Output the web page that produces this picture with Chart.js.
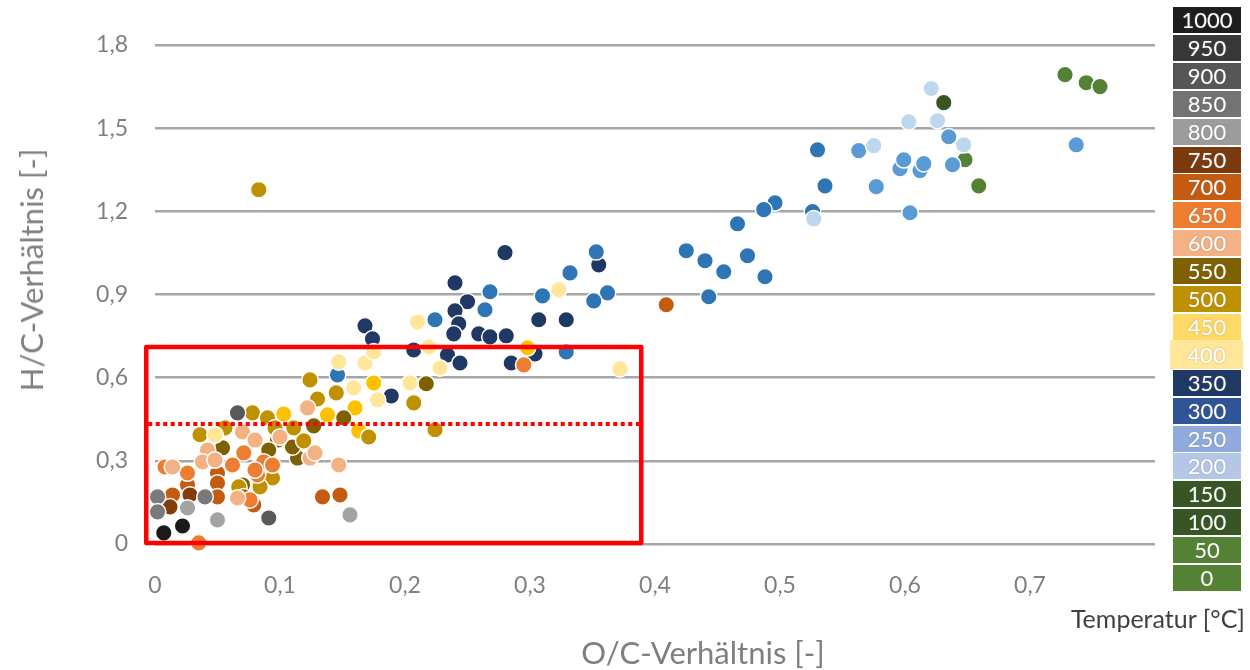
<!DOCTYPE html>
<html>
<head>
<meta charset="utf-8">
<script src="https://cdn.jsdelivr.net/npm/chart.js@4.4.1/dist/chart.umd.min.js"></script>
<style>
  body { margin: 0; background: #fff; }
  #wrap { position: relative; width: 1250px; height: 670px; }
  .lg { position: absolute; left: 1173px; width: 68px; height: 26px; color: #fff;
        font: 22px Lato, "Open Sans", sans-serif; line-height: 26px; text-align: center;
        text-shadow: 0 0 2px rgba(120,120,120,0.5); }
  #unit { position: absolute; right: 5px; top: 603px; font: 25px Lato, sans-serif; color: #404040; }
  .ttl { position: absolute; font: 31px Lato, sans-serif; color: #7f7f7f; white-space: nowrap; }
  #xTitle { left: 703px; top: 652px; transform: translate(-50%, -50%); }
  #yTitle { left: 31px; top: 270px; transform: translate(-50%, -50%) rotate(-90deg); }
</style>
</head>
<body>
<div id="wrap">
  <canvas id="vkChart" width="1250" height="670"></canvas>
  <div id="legend"></div>
  <div id="unit">Temperatur [°C]</div>
  <div class="ttl" id="xTitle">O/C-Verhältnis [-]</div>
  <div class="ttl" id="yTitle">H/C-Verhältnis [-]</div>
</div>
<script>
// Temperaturstufen (Legende oben -> unten)
const legendTemps = [1000, 950, 900, 850, 800, 750, 700, 650, 600, 550, 500, 450, 400, 350, 300, 250, 200, 150, 100, 50, 0];
const legendColors = ['#1e1e1e', '#383838', '#565656', '#737373', '#9c9c9c', '#7b3a0e', '#c55a11', '#ed7d31', '#f4b183',
  '#7f6000', '#bf9000', '#ffd966', '#ffe699', '#203864', '#2f5597', '#8faadc', '#b4c7e7', '#375623', '#375623', '#548235', '#548235'];

const xTickLabels = ['0', '0,1', '0,2', '0,3', '0,4', '0,5', '0,6', '0,7', ''];
const yTickLabels = ['0', '0,3', '0,6', '0,9', '1,2', '1,5', '1,8'];

// Messpunkte je Temperatur: O/C (x) und H/C (y)
const oc1000 = [0.007, 0.022];
const hc1000 = [0.040, 0.065];
const oc900 = [0.066, 0.091];
const hc900 = [0.473, 0.094];
const oc850 = [0.002, 0.040, 0.002];
const hc850 = [0.170, 0.170, 0.116];
const oc800 = [0.026, 0.050, 0.156];
const hc800 = [0.130, 0.087, 0.105];
const oc750 = [0.028, 0.012];
const hc750 = [0.177, 0.134];
const oc700 = [0.026, 0.050, 0.050, 0.014, 0.079, 0.134, 0.148, 0.071, 0.050, 0.409];
const hc700 = [0.213, 0.256, 0.220, 0.177, 0.141, 0.170, 0.177, 0.170, 0.170, 0.863];
const oc650 = [0.008, 0.026, 0.071, 0.062, 0.082, 0.087, 0.082, 0.094, 0.080, 0.076, 0.035, 0.295];
const hc650 = [0.278, 0.256, 0.329, 0.285, 0.274, 0.296, 0.249, 0.285, 0.267, 0.159, 0.004, 0.646];
const oc600 = [0.122, 0.042, 0.070, 0.080, 0.124, 0.147, 0.128, 0.014, 0.038, 0.100, 0.066, 0.048];
const hc600 = [0.491, 0.339, 0.404, 0.375, 0.310, 0.285, 0.329, 0.278, 0.296, 0.386, 0.166, 0.303];
const oc550 = [0.151, 0.098, 0.054, 0.114, 0.091, 0.070, 0.127, 0.110, 0.217];
const hc550 = [0.455, 0.375, 0.347, 0.310, 0.339, 0.213, 0.426, 0.350, 0.578];
const oc500 = [0.124, 0.130, 0.145, 0.036, 0.119, 0.078, 0.090, 0.056, 0.096, 0.111, 0.171, 0.067, 0.094, 0.084, 0.207, 0.224, 0.083];
const hc500 = [0.592, 0.523, 0.545, 0.394, 0.372, 0.473, 0.455, 0.419, 0.419, 0.419, 0.386, 0.206, 0.238, 0.206, 0.509, 0.412, 1.278];
const oc450 = [0.103, 0.175, 0.138, 0.160, 0.163, 0.298];
const hc450 = [0.469, 0.581, 0.466, 0.491, 0.408, 0.708];
const oc400 = [0.147, 0.168, 0.175, 0.159, 0.178, 0.048, 0.210, 0.219, 0.228, 0.323, 0.372, 0.204];
const hc400 = [0.657, 0.653, 0.693, 0.563, 0.520, 0.394, 0.801, 0.711, 0.635, 0.917, 0.632, 0.581];
const oc350 = [0.280, 0.240, 0.250, 0.240, 0.243, 0.239, 0.168, 0.174, 0.207, 0.234, 0.244, 0.259, 0.268, 0.281, 0.307, 0.329, 0.285, 0.304, 0.355, 0.189];
const hc350 = [1.051, 0.942, 0.874, 0.841, 0.794, 0.758, 0.787, 0.740, 0.700, 0.682, 0.653, 0.758, 0.747, 0.751, 0.809, 0.809, 0.653, 0.686, 1.007, 0.534];
const oc300 = [0.268, 0.264, 0.224, 0.332, 0.310, 0.353, 0.362, 0.351, 0.329, 0.146, 0.530, 0.536, 0.526, 0.496, 0.487, 0.466, 0.425, 0.440, 0.455, 0.474, 0.488, 0.443];
const hc300 = [0.910, 0.845, 0.809, 0.978, 0.895, 1.054, 0.906, 0.877, 0.693, 0.610, 1.422, 1.292, 1.199, 1.231, 1.206, 1.155, 1.058, 1.022, 0.982, 1.040, 0.964, 0.892];
const oc250 = [0.563, 0.577, 0.596, 0.599, 0.612, 0.615, 0.635, 0.638, 0.604, 0.737];
const hc250 = [1.419, 1.289, 1.354, 1.386, 1.347, 1.372, 1.469, 1.368, 1.195, 1.440];
const oc200 = [0.621, 0.603, 0.626, 0.647, 0.575, 0.527];
const hc200 = [1.643, 1.523, 1.527, 1.440, 1.437, 1.173];
const oc150 = [0.631];
const hc150 = [1.592];
const oc50 = [0.728, 0.745, 0.756, 0.648, 0.659];
const hc50 = [1.693, 1.664, 1.650, 1.386, 1.292];

// markierter Bereich
const boxX = [-0.007, 0.389];
const boxY = [0.004, 0.711];
const limitY = 0.433;

const series = [
  { t: 1000, x: oc1000, y: hc1000, c: '#1a1a1a' },
  { t: 900, x: oc900, y: hc900, c: '#595959' },
  { t: 850, x: oc850, y: hc850, c: '#7a7a7a' },
  { t: 800, x: oc800, y: hc800, c: '#a3a3a3' },
  { t: 750, x: oc750, y: hc750, c: '#843c0c' },
  { t: 600, x: oc600, y: hc600, c: '#f4b183' },
  { t: 650, x: oc650, y: hc650, c: '#ed7d31' },
  { t: 700, x: oc700, y: hc700, c: '#c55a11' },
  { t: 400, x: oc400, y: hc400, c: '#ffe699' },
  { t: 500, x: oc500, y: hc500, c: '#bf9000' },
  { t: 550, x: oc550, y: hc550, c: '#7f6000' },
  { t: 450, x: oc450, y: hc450, c: '#ffc000' },
  { t: 200, x: oc200, y: hc200, c: '#bdd7ee' },
  { t: 250, x: oc250, y: hc250, c: '#5b9bd5' },
  { t: 300, x: oc300, y: hc300, c: '#2e75b6' },
  { t: 350, x: oc350, y: hc350, c: '#203864' },
  { t: 150, x: oc150, y: hc150, c: '#375623' },
  { t: 50, x: oc50, y: hc50, c: '#548235' }
];

// Legende als Farbkästchen
const legendEl = document.getElementById('legend');
legendTemps.forEach(function (t, i) {
  const d = document.createElement('div');
  d.className = 'lg';
  d.textContent = t;
  d.style.top = (7 + i * 27.9) + 'px';
  d.style.background = legendColors[i];
  if (t === 400) {
    d.style.left = '1170px';
    d.style.width = '73px';
    d.style.height = '29px';
    d.style.lineHeight = '29px';
    d.style.top = (7 + i * 27.9 - 1.5) + 'px';
  }
  legendEl.appendChild(d);
});

const boxPlugin = {
  id: 'markBox',
  afterDatasetsDraw(chart) {
    const ctx = chart.ctx;
    const xs = chart.scales.x, ys = chart.scales.y;
    const l = xs.getPixelForValue(boxX[0]), r = xs.getPixelForValue(boxX[1]);
    const t = ys.getPixelForValue(boxY[1]), b = ys.getPixelForValue(boxY[0]);
    ctx.save();
    ctx.strokeStyle = '#ff0000';
    ctx.lineWidth = 4.5;
    ctx.lineJoin = 'round';
    ctx.strokeRect(l, t, r - l, b - t);
    const ly = ys.getPixelForValue(limitY);
    ctx.lineWidth = 4;
    ctx.setLineDash([4, 3.5]);
    ctx.beginPath();
    ctx.moveTo(l + 2, ly);
    ctx.lineTo(r - 2, ly);
    ctx.stroke();
    ctx.restore();
  }
};

const tickColor = '#7f7f7f';
const font = 'Lato, "Open Sans", sans-serif';

new Chart(document.getElementById('vkChart'), {
  type: 'scatter',
  data: {
    datasets: series.map(function (s) {
      return {
        label: s.t + ' °C',
        data: s.x.map(function (v, i) { return { x: v, y: s.y[i] }; }),
        backgroundColor: s.c,
        borderColor: '#ffffff',
        borderWidth: 1.5,
        pointRadius: 8.3,
        clip: false
      };
    })
  },
  options: {
    responsive: false,
    animation: false,
    layout: { padding: { top: 45, right: 95, left: 0, bottom: 0 } },
    plugins: { legend: { display: false }, tooltip: { enabled: false } },
    scales: {
      x: {
        type: 'linear', min: 0, max: 0.8,
        grid: { display: false },
        border: { display: false },
        ticks: {
          stepSize: 0.1, padding: 20, color: tickColor, font: { family: font, size: 23 },
          callback: function (v, i) { return xTickLabels[i]; }
        },
        afterFit: function (s) { s.height = 126; }
      },
      y: {
        type: 'linear', min: 0, max: 1.8,
        grid: { color: '#a6a6a6', lineWidth: 2.5, drawTicks: false },
        border: { display: false },
        ticks: {
          stepSize: 0.3, padding: 27, color: tickColor, font: { family: font, size: 23 },
          callback: function (v, i) { return yTickLabels[i]; }
        },
        afterFit: function (s) { s.width = 155; }
      }
    }
  },
  plugins: [boxPlugin]
});
</script>
</body>
</html>
